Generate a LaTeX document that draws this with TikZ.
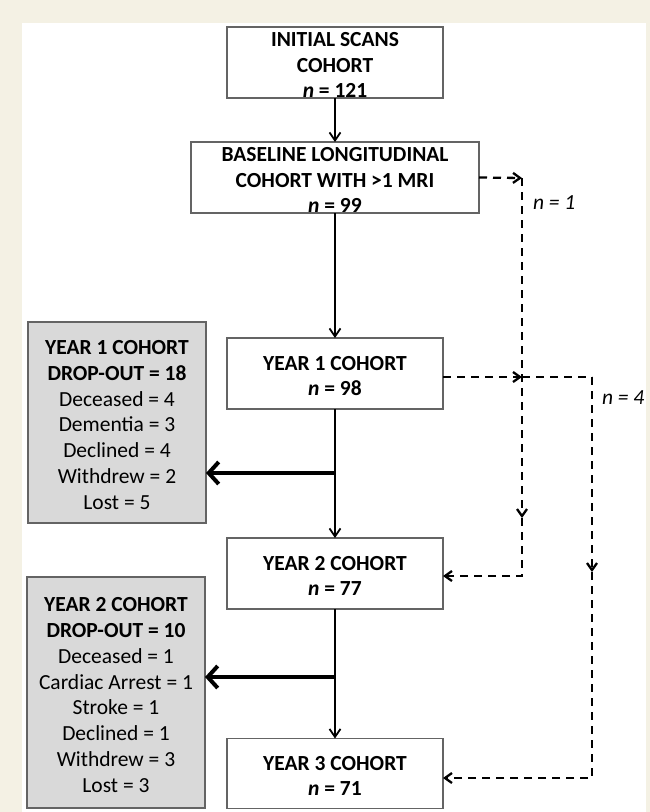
\documentclass[tikz,border=0pt]{standalone}
\usepackage{fontspec}
\setmainfont{Carlito}
\usetikzlibrary{arrows.meta}
\definecolor{cream}{RGB}{244,241,228}
\definecolor{boxgray}{RGB}{217,217,217}
\definecolor{edgegray}{RGB}{100,100,100}
\newcommand\topfix{\rule{0pt}{19pt}}
\begin{document}
\begin{tikzpicture}[x=1pt,y=-1pt,
  every node/.style={font=\fontsize{21.5}{25.8}\selectfont, inner sep=0pt, outer sep=0pt},
  cohort/.style={draw=edgegray, line width=1.2pt, fill=white, align=center, minimum height=71pt},
  dropbox/.style={draw=edgegray, line width=1.2pt, fill=boxgray, align=center, minimum width=178pt},
  flow/.style={line width=1.8pt, -{Straight Barb[length=8pt,width=11pt]}},
  thickflow/.style={line width=4pt, -{Straight Barb[length=10pt,width=22pt]}},
  dashflow/.style={line width=2.3pt, dash pattern=on 8pt off 6pt, -{Straight Barb[length=7pt,width=10pt]}},
  dashline/.style={line width=2.3pt, dash pattern=on 8pt off 6pt},
  nlabel/.style={anchor=west, font=\fontsize{21.5}{25.8}\selectfont\itshape}]
\fill[cream] (0,0) rectangle (650,812);
\fill[white] (22,23) rectangle (646,812);
\useasboundingbox (0,0) rectangle (650,812);

% main cohort boxes
\node[cohort, minimum width=216pt] (init) at (335,62.5)
  {\topfix\textbf{INITIAL SCANS}\\\textbf{COHORT}\\\textbf{\textit{n} = 121}};
\node[cohort, minimum width=288pt] (base) at (335,177.5)
  {\topfix\textbf{BASELINE LONGITUDINAL}\\\textbf{COHORT WITH >1 MRI}\\\textbf{\textit{n} = 99}};
\node[cohort, minimum width=216pt] (y1) at (335,373.5)
  {\topfix\textbf{YEAR 1 COHORT}\\\textbf{\textit{n} = 98}};
\node[cohort, minimum width=216pt] (y2) at (335,573.5)
  {\topfix\textbf{YEAR 2 COHORT}\\\textbf{\textit{n} = 77}};
\node[cohort, minimum width=216pt, minimum height=70pt] (y3) at (335,773.5)
  {\topfix\textbf{YEAR 3 COHORT}\\\textbf{\textit{n} = 71}};

% drop-out boxes
\node[dropbox, minimum height=201pt] (g1) at (117,422.5)
  {\topfix\textbf{YEAR 1 COHORT}\\\textbf{DROP-OUT = 18}\\Deceased = 4\\Dementia = 3\\Declined = 4\\Withdrew = 2\\Lost = 5};
\node[dropbox, minimum height=231pt] (g2) at (116,692.5)
  {\topfix\textbf{YEAR 2 COHORT}\\\textbf{DROP-OUT = 10}\\Deceased = 1\\Cardiac Arrest = 1\\Stroke = 1\\Declined = 1\\Withdrew = 3\\Lost = 3};

% main flow
\draw[flow] (init) -- (base);
\draw[flow] (base) -- (y1);
\draw[flow] (y1) -- (y2);
\draw[flow] (y2) -- (y3);

% drop-out arrows
\coordinate (j1) at (335,473);
\coordinate (j2) at (335,677);
\draw[thickflow] (j1) -- (j1 -| g1.east);
\draw[thickflow] (j2) -- (j2 -| g2.east);

% dashed side paths
\coordinate (c1) at (522,178);
\coordinate (c1d) at (522,518);
\coordinate (c1e) at (522,576);
\draw[dashflow] (base.east) -- (c1);
\draw[dashflow] (c1) -- (c1d);
\draw[dashflow] (c1d) -- (c1e) -- (c1e -| y2.east);

\coordinate (c2) at (522,377);
\coordinate (c3) at (592,377);
\coordinate (c3d) at (592,572);
\coordinate (c3e) at (592,778);
\draw[dashflow] (c2 -| y1.east) -- (c2);
\draw[dashline] (c2) -- (c3);
\draw[dashflow] (c3) -- (c3d);
\draw[dashflow] (c3d) -- (c3e) -- (c3e -| y3.east);

\node[nlabel] (n1) at (533,203) {n = 1};
\node[nlabel] (n4) at (602,398) {n = 4};
\end{tikzpicture}
\end{document}
